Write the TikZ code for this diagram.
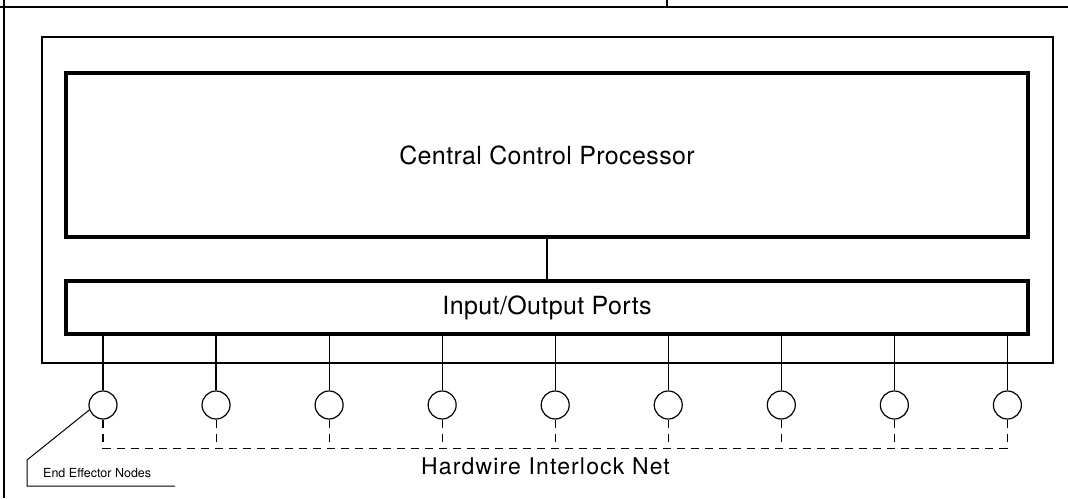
\documentclass[tikz,border=0pt]{standalone}
\usepackage{fontspec}
\setmainfont{TeX Gyre Heros}
\usetikzlibrary{arrows.meta, calc, positioning}

\begin{document}
\begin{tikzpicture}[x=1pt, y=-1pt,
    unit/.style={draw, line width=3.6pt, inner sep=0pt, font=\fontsize{25}{28}\selectfont\addfontfeature{LetterSpace=1.5}},
    effector/.style={draw, circle, line width=1.2pt, minimum size=28pt, inner sep=0pt},
    wire/.style={line width=1.2pt},
    net/.style={line width=1.1pt, dash pattern=on 8pt off 6pt}]
  \useasboundingbox (0,0) rectangle (1068,498);
  % header strip
  \draw[line width=2pt] (0,7) -- (1068,7);
  \draw[line width=1.5pt] (667,0) -- (667,7);
  \draw[line width=2pt] (4,0) -- (4,498);
  % controller enclosure
  \draw[line width=1.3pt] (42,37) rectangle (1053,363);
  \node[unit, minimum width=962pt, minimum height=164pt] (ccp) at (547,155) {Central Control Processor};
  \node[unit, minimum width=962pt, minimum height=53pt] (io) at (547,307.5) {Input/Output Ports};
  \draw[wire] (ccp.south) -- (io.north);
  % end effector nodes on the hardwire net
  \foreach \i in {1,...,9} {
    \node[effector] (e\i) at ({103+113.05*(\i-1)},405) {};
    \draw[wire] (e\i.north) -- (e\i.north |- io.south);
    \coordinate (d\i) at ($(e\i.south)+(0,29)$);
    \draw[net] (e\i.south) -- (d\i);
  }
  \draw[net] (d1) -- (d9);
  \node[font=\fontsize{23}{26}\selectfont\addfontfeature{LetterSpace=5}, anchor=base west, inner sep=0pt] (hin) at (421,474) {Hardwire Interlock Net};
  % leader to label
  \coordinate (k1) at (27,460);
  \coordinate (k2) at (27,486);
  \coordinate (k3) at (175,486);
  \draw[line width=1pt] (e1.200) -- (k1) -- (k2) -- (k3);
  \node[font=\fontsize{12.5}{14}\selectfont, anchor=base west, inner sep=0pt] (een) at (43,477) {End Effector Nodes};
\end{tikzpicture}
\end{document}
